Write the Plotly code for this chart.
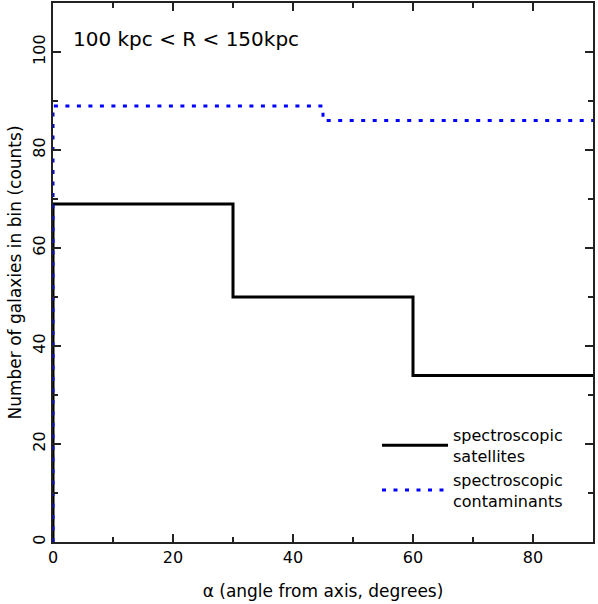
import plotly.graph_objects as go

# bin left edges (degrees) and counts in each bin
sat_edges = [0, 30, 60, 90]
sat_counts = [69, 50, 34]
cont_edges = [0, 45, 90]
cont_counts = [89, 86]
x_ticks = [0, 20, 40, 60, 80]
y_ticks = [0, 20, 40, 60, 80, 100]


def step(edges, counts):
    # histogram outline starting from zero at the first edge
    xs = [edges[0]] + list(edges)
    ys = [0] + list(counts) + [counts[-1]]
    return xs, ys


FONT = "DejaVu Sans"

fig = go.Figure()
sx, sy = step(sat_edges, sat_counts)
cx, cy = step(cont_edges, cont_counts)
fig.add_trace(go.Scatter(x=sx, y=sy, mode="lines", line_shape="hv",
                         line=dict(color="black", width=3),
                         name="spectroscopic<br>satellites"))
fig.add_trace(go.Scatter(x=cx, y=cy, mode="lines", line_shape="hv",
                         line=dict(color="#0000ff", width=3, dash="4px,7.5px"),
                         name="spectroscopic<br>contaminants"))

axis_common = dict(showgrid=False, zeroline=False, showline=True, linecolor="#222",
                   linewidth=1.5, mirror="ticks", ticks="inside", ticklen=8,
                   tickcolor="#222", tickwidth=1.5, automargin=False,
                   tickfont=dict(family=FONT, size=16, color="black"))
minor = dict(ticks="inside", dtick=10, ticklen=5, tickcolor="#222", tickwidth=1.5)
fig.update_xaxes(range=[0, 90], tickvals=x_ticks, minor=minor,
                 title=dict(text="α (angle from axis, degrees)",
                            font=dict(family=FONT, size=17, color="black"), standoff=19),
                 **axis_common)
fig.update_yaxes(range=[0, 110], tickvals=y_ticks, tickangle=-90, minor=minor,
                 title=dict(text="Number of galaxies in bin (counts)",
                            font=dict(family=FONT, size=17, color="black"), standoff=4),
                 **axis_common)

fig.add_annotation(text="100 kpc < R < 150kpc", xref="paper", yref="paper",
                   x=0.034, y=0.933, xanchor="left", yanchor="middle", showarrow=False,
                   font=dict(family=FONT, size=20, color="black"))

fig.update_layout(
    width=598, height=604,
    margin=dict(l=53, r=5, t=3, b=62),
    plot_bgcolor="white", paper_bgcolor="white",
    legend=dict(x=0.6, y=0.23, xanchor="left", yanchor="top",
                bgcolor="rgba(0,0,0,0)", font=dict(family=FONT, size=16, color="black"),
                itemwidth=66),
)

fig.write_html("out.html", config={"displayModeBar": False},
               post_script="document.body.style.margin='0';")
